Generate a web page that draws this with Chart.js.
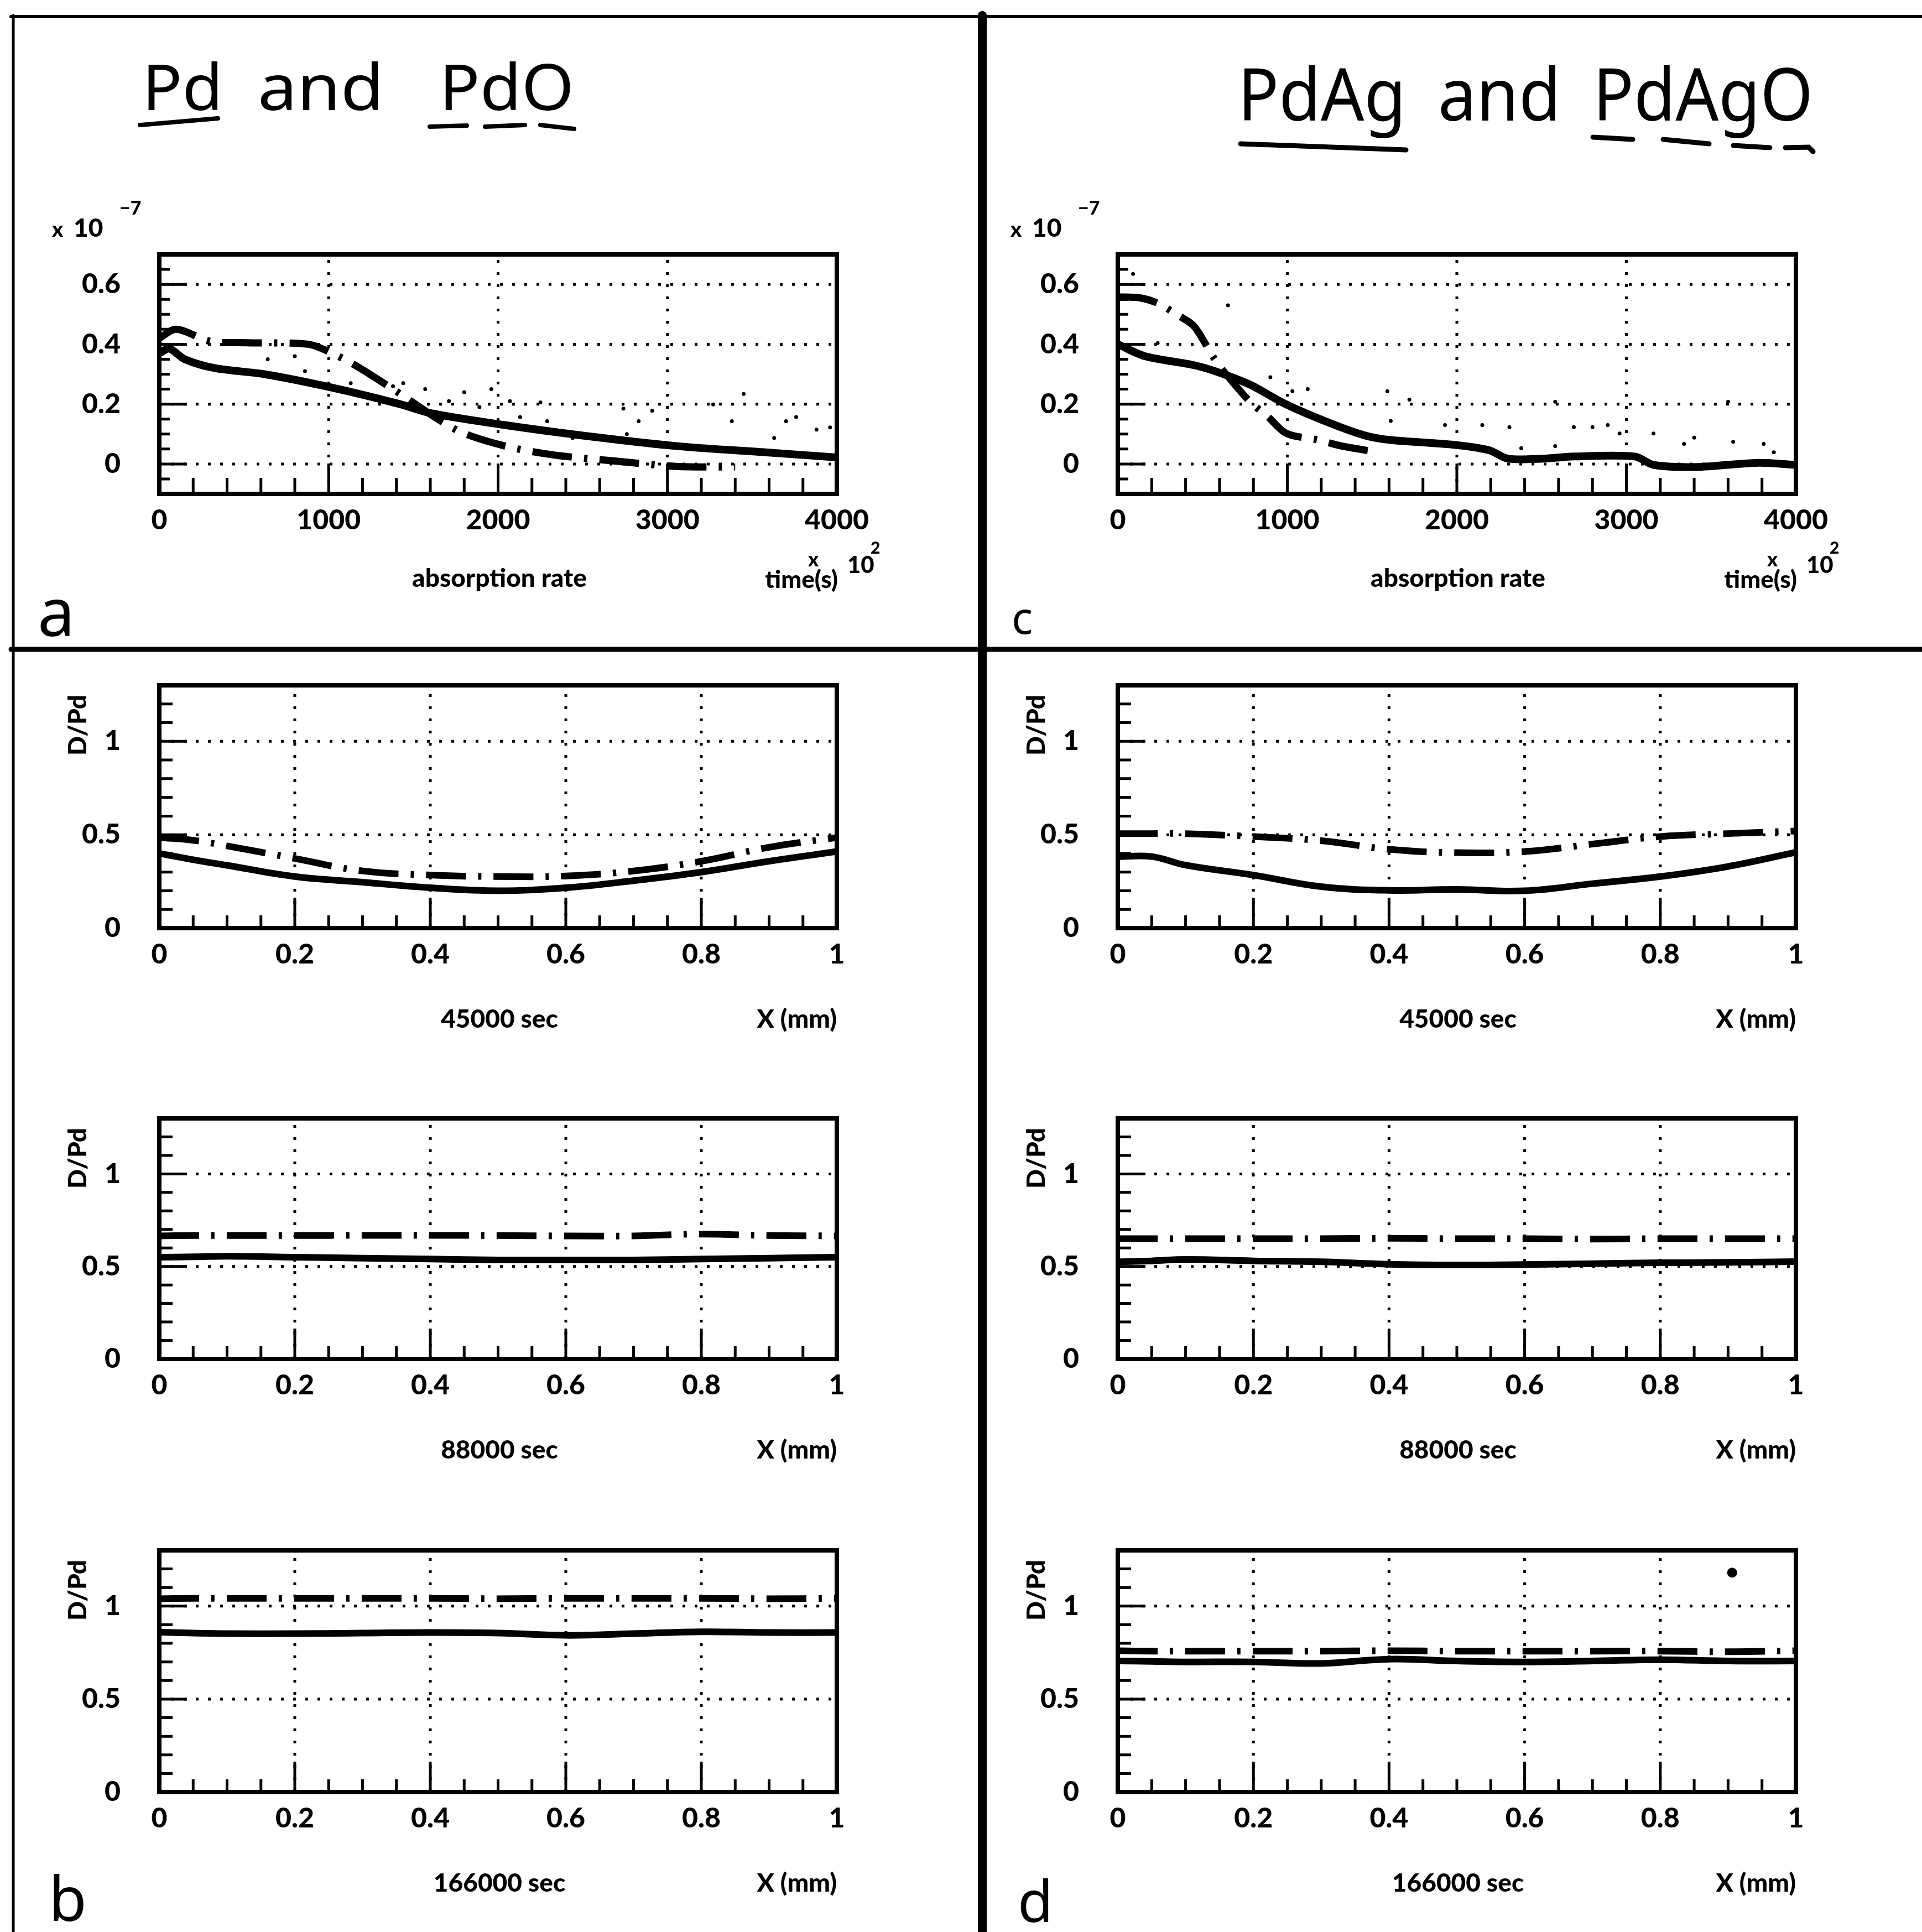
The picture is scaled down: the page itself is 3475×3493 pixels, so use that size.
<!DOCTYPE html>
<html>
<head>
<meta charset="utf-8">
<title>Pd and PdO / PdAg and PdAgO</title>
<script src="https://cdn.jsdelivr.net/npm/chart.js"></script>
<style>
  html, body { margin: 0; padding: 0; background: #fff; }
  body { position: relative; width: 3475px; height: 3493px; overflow: hidden; }
  canvas { position: absolute; }
  #page { position: absolute; left: 0; top: 0; pointer-events: none; }
  .tk { font-family: Lato, sans-serif; font-weight: 900; fill: #000; }
  .hw { font-family: 'Noto Sans', sans-serif; font-weight: 400; fill: #000; }
</style>
</head>
<body>
<svg id="page" width="3475" height="3493"></svg>
<script>
// absorption rate (x 10^-7) against time (x 10^2 s)
const pdTime   = [0, 60, 150, 330, 620, 1020, 1420, 1600, 2040, 2500, 3050, 3600, 4000];
const pdRate   = [0.37, 0.385, 0.35, 0.32, 0.30, 0.255, 0.20, 0.17, 0.13, 0.095, 0.06, 0.038, 0.022];
const pdoTime  = [0, 100, 300, 520, 880, 1020, 1170, 1380, 1750, 2040, 2330, 2690, 3050, 3400];
const pdoRate  = [0.42, 0.45, 0.41, 0.405, 0.40, 0.37, 0.325, 0.25, 0.115, 0.06, 0.03, 0.01, -0.008, -0.01];
const pdoDotT  = [640, 800, 860, 1130, 1380, 1440, 1570, 1710, 1800, 1890, 1960, 2070, 2130, 2250, 2290, 2440, 2740, 2760, 2830, 2910, 3270, 3380, 3450, 3630, 3700, 3760, 3880, 3960];
const pdoDotR  = [0.35, 0.36, 0.31, 0.27, 0.26, 0.27, 0.25, 0.21, 0.24, 0.19, 0.25, 0.21, 0.157, 0.206, 0.143, 0.087, 0.185, 0.10, 0.143, 0.178, 0.199, 0.143, 0.234, 0.087, 0.143, 0.157, 0.115, 0.122];

const pdagTime  = [0, 160, 450, 600, 780, 990, 1250, 1460, 1610, 1970, 2190, 2300, 2510, 2690, 3050, 3160, 3410, 3780, 4000];
const pdagRate  = [0.40, 0.36, 0.33, 0.305, 0.265, 0.20, 0.137, 0.095, 0.08, 0.065, 0.046, 0.018, 0.018, 0.025, 0.025, -0.003, -0.01, 0.004, -0.003];
const pdagoTime = [0, 130, 235, 345, 450, 560, 630, 780, 885, 995, 1175, 1320, 1540];
const pdagoRate = [0.558, 0.555, 0.537, 0.50, 0.46, 0.36, 0.306, 0.208, 0.158, 0.102, 0.081, 0.06, 0.039];
const pdagoDotT = [90, 235, 650, 900, 1030, 1120, 1590, 1610, 1720, 1930, 2150, 2310, 2380, 2580, 2580, 2690, 2800, 2890, 2960, 3160, 3340, 3400, 3600, 3630, 3810, 3870];
const pdagoDotR = [0.635, 0.404, 0.53, 0.29, 0.243, 0.25, 0.243, 0.144, 0.215, 0.13, 0.13, 0.123, 0.053, 0.208, 0.06, 0.123, 0.123, 0.13, 0.102, 0.102, 0.067, 0.088, 0.208, 0.074, 0.067, 0.039];

// D/Pd profiles against X (mm)
const xPos = [0, 0.05, 0.1, 0.2, 0.3, 0.4, 0.5, 0.6, 0.7, 0.8, 0.9, 1];
const pd45k    = [0.40, 0.366, 0.336, 0.276, 0.246, 0.216, 0.20, 0.216, 0.254, 0.30, 0.358, 0.41];
const pdo45k   = [0.485, 0.47, 0.44, 0.373, 0.306, 0.284, 0.276, 0.279, 0.306, 0.358, 0.433, 0.485];
const pd88k    = [0.55, 0.552, 0.555, 0.55, 0.545, 0.54, 0.535, 0.535, 0.535, 0.54, 0.545, 0.55];
const pdo88k   = [0.665, 0.667, 0.667, 0.667, 0.668, 0.668, 0.667, 0.665, 0.665, 0.675, 0.667, 0.665];
const pd166k   = [0.86, 0.855, 0.852, 0.852, 0.855, 0.858, 0.855, 0.843, 0.852, 0.862, 0.858, 0.858];
const pdo166k  = [1.04, 1.042, 1.042, 1.042, 1.042, 1.042, 1.04, 1.042, 1.042, 1.042, 1.04, 1.042];
const pdag45k  = [0.383, 0.383, 0.337, 0.284, 0.222, 0.202, 0.207, 0.20, 0.238, 0.276, 0.33, 0.406];
const pdago45k = [0.506, 0.506, 0.506, 0.49, 0.468, 0.422, 0.404, 0.41, 0.45, 0.49, 0.506, 0.52];
const pdag88k  = [0.525, 0.53, 0.538, 0.53, 0.525, 0.512, 0.508, 0.51, 0.515, 0.52, 0.522, 0.526];
const pdago88k = [0.65, 0.65, 0.65, 0.65, 0.65, 0.652, 0.65, 0.65, 0.648, 0.65, 0.65, 0.65];
const pdag166k  = [0.705, 0.703, 0.70, 0.70, 0.692, 0.715, 0.705, 0.70, 0.705, 0.712, 0.705, 0.705];
const pdago166k = [0.76, 0.758, 0.758, 0.758, 0.758, 0.76, 0.758, 0.758, 0.758, 0.758, 0.755, 0.76];
const pdag166kDotX = [0.906];
const pdag166kDotY = [1.18];

// ticks
const timeTicks  = [0, 1000, 2000, 3000, 4000];
const timeLabels = ['0', '1000', '2000', '3000', '4000'];
const rateTicks  = [0, 0.2, 0.4, 0.6];
const rateLabels = ['0', '0.2', '0.4', '0.6'];
const posTicks   = [0, 0.2, 0.4, 0.6, 0.8, 1];
const posLabels  = ['0', '0.2', '0.4', '0.6', '0.8', '1'];
const dpdTicks   = [0, 0.5, 1];
const dpdLabels  = ['0', '0.5', '1'];
const sampleTimes = ['45000 sec', '88000 sec', '166000 sec'];

// page layout (plot areas in page pixels)
const cols = [[288, 1513], [2021, 3247]];
const topRow = [460, 893];
const rows = [[1239, 1678], [2022, 2457], [2803, 3240]];

Chart.defaults.font.family = 'Lato, sans-serif';
Chart.defaults.color = '#000';

const pts = (xs, ys) => xs.map((x, i) => ({x: x, y: ys[i]}));
const solid = (xs, ys, t, w) => ({data: pts(xs, ys), borderColor: '#000', borderWidth: w, pointRadius: 0, tension: t, fill: false});
const dashed = (xs, ys, t, w) => Object.assign(solid(xs, ys, t, w), {borderDash: [72, 22, 6, 22]});
const dots = (xs, ys, r) => ({data: pts(xs, ys), showLine: false, pointRadius: r, pointBackgroundColor: '#000', pointBorderWidth: 0, borderColor: '#000'});

// dotted grid, inward ticks and the box round each plot
const near = (v, list) => list.some(t => Math.abs(t - v) < 1e-6);
const frame = {
  id: 'frame',
  beforeDatasetsDraw(chart, args, o) {
    const {ctx, chartArea: a, scales: {x, y}} = chart;
    ctx.save();
    ctx.strokeStyle = '#000';
    ctx.lineWidth = 5;
    ctx.setLineDash([5, 17]);
    ctx.beginPath();
    o.gridX.forEach(v => { const p = x.getPixelForValue(v); ctx.moveTo(p, a.bottom); ctx.lineTo(p, a.top); });
    o.gridY.forEach(v => { const p = y.getPixelForValue(v); ctx.moveTo(a.left, p); ctx.lineTo(a.right, p); });
    ctx.stroke();
    ctx.restore();
  },
  afterDatasetsDraw(chart, args, o) {
    const {ctx, chartArea: a, scales: {x, y}} = chart;
    ctx.save();
    ctx.strokeStyle = '#000';
    ctx.setLineDash([]);
    ctx.lineWidth = 5;
    ctx.beginPath();
    for (let i = 1; ; i++) {
      const v = x.min + i * o.xStep;
      if (v > x.max - 1e-9) break;
      const p = x.getPixelForValue(v);
      ctx.moveTo(p, a.bottom);
      ctx.lineTo(p, a.bottom - (near(v, o.gridX) ? o.xMajor : o.xMinor));
    }
    for (let i = 1; ; i++) {
      const v = y.min + i * o.yStep;
      if (v > y.max - 1e-9) break;
      const p = y.getPixelForValue(v);
      ctx.moveTo(a.left, p);
      ctx.lineTo(a.left + (near(v, o.gridY) ? o.yMajor : o.yMinor), p);
    }
    ctx.stroke();
    ctx.lineWidth = 8;
    ctx.strokeRect(a.left, a.top, a.right - a.left, a.bottom - a.top);
    ctx.restore();
  }
};

// keep the plot area exactly where the page layout wants it
const noPad = s => { s.paddingTop = 0; s.paddingBottom = 0; s.paddingLeft = 0; s.paddingRight = 0; };

const YW = 280, RP = 90, TP = 20, XH = 110;
function makeChart(col, row, datasets, ax) {
  const [L, R] = col, [T, B] = row;
  const cv = document.createElement('canvas');
  cv.width = YW + (R - L) + RP;
  cv.height = TP + (B - T) + XH;
  cv.style.left = (L - YW) + 'px';
  cv.style.top = (T - TP) + 'px';
  document.body.insertBefore(cv, document.getElementById('page'));
  const tickFont = {size: 50, weight: '900'};
  new Chart(cv, {
    type: 'line',
    data: {datasets: datasets},
    options: {
      responsive: false, animation: false, devicePixelRatio: 1,
      layout: {autoPadding: false, padding: {top: TP, right: RP, left: 0, bottom: 0}},
      plugins: {legend: {display: false}, tooltip: {enabled: false}, frame: ax.frame},
      scales: {
        x: {
          type: 'linear', min: ax.xMin, max: ax.xMax,
          afterFit: s => { s.height = XH; noPad(s); },
          afterBuildTicks: s => { s.ticks = ax.xTicks.map(v => ({value: v})); },
          ticks: {callback: (v, i) => ax.xLabels[i], font: tickFont, padding: 18, maxRotation: 0, autoSkip: false},
          grid: {display: false, drawTicks: false}, border: {display: false}
        },
        y: {
          type: 'linear', min: ax.yMin, max: ax.yMax,
          afterFit: s => { s.width = YW; noPad(s); },
          afterBuildTicks: s => { s.ticks = ax.yTicks.map(v => ({value: v})); },
          ticks: {callback: (v, i) => ax.yLabels[i], font: tickFont, padding: 70, autoSkip: false},
          grid: {display: false, drawTicks: false}, border: {display: false}
        }
      }
    },
    plugins: [frame]
  });
}

const rateAxes = {
  xMin: 0, xMax: 4000, yMin: -0.1, yMax: 0.7,
  xTicks: timeTicks, xLabels: timeLabels, yTicks: rateTicks, yLabels: rateLabels,
  frame: {gridX: [1000, 2000, 3000], gridY: [0, 0.2, 0.4, 0.6], xStep: 200, yStep: 0.05, xMinor: 29, xMajor: 55, yMinor: 19, yMajor: 50}
};
const dpdAxes = {
  xMin: 0, xMax: 1, yMin: 0, yMax: 1.3,
  xTicks: posTicks, xLabels: posLabels, yTicks: dpdTicks, yLabels: dpdLabels,
  frame: {gridX: [0.2, 0.4, 0.6, 0.8], gridY: [0.5, 1], xStep: 0.05, yStep: 0.1, xMinor: 23, xMajor: 55, yMinor: 24, yMajor: 50}
};

makeChart(cols[0], topRow, [solid(pdTime, pdRate, 0.3, 14), dashed(pdoTime, pdoRate, 0.3, 13), dots(pdoDotT, pdoDotR, 3.5)], rateAxes);
makeChart(cols[1], topRow, [solid(pdagTime, pdagRate, 0.3, 14), dashed(pdagoTime, pdagoRate, 0.3, 13), dots(pdagoDotT, pdagoDotR, 3.5)], rateAxes);

makeChart(cols[0], rows[0], [solid(xPos, pd45k, 0.4, 12), dashed(xPos, pdo45k, 0.4, 12)], dpdAxes);
makeChart(cols[0], rows[1], [solid(xPos, pd88k, 0.4, 12), dashed(xPos, pdo88k, 0.4, 12)], dpdAxes);
makeChart(cols[0], rows[2], [solid(xPos, pd166k, 0.4, 12), dashed(xPos, pdo166k, 0.4, 12)], dpdAxes);
makeChart(cols[1], rows[0], [solid(xPos, pdag45k, 0.4, 12), dashed(xPos, pdago45k, 0.4, 12)], dpdAxes);
makeChart(cols[1], rows[1], [solid(xPos, pdag88k, 0.4, 12), dashed(xPos, pdago88k, 0.4, 12)], dpdAxes);
makeChart(cols[1], rows[2], [solid(xPos, pdag166k, 0.4, 12), dashed(xPos, pdago166k, 0.4, 12), dots(pdag166kDotX, pdag166kDotY, 9)], dpdAxes);

// ---- page furniture: frame, titles, captions ----
const svg = document.getElementById('page');
const NS = 'http://www.w3.org/2000/svg';
function el(tag, attrs, text) {
  const e = document.createElementNS(NS, tag);
  for (const k in attrs) e.setAttribute(k, attrs[k]);
  if (text != null) e.textContent = text;
  svg.appendChild(e);
  return e;
}
const line = (x1, y1, x2, y2, w) => el('line', {x1, y1, x2, y2, stroke: '#000', 'stroke-width': w, 'stroke-linecap': 'round'});
const txt = (x, y, s, cls, size, anchor, extra) => el('text', Object.assign({x, y, class: cls, 'font-size': size, 'text-anchor': anchor || 'start'}, extra || {}), s);

line(20, 30, 3475, 30, 6);
line(24, 28, 24, 3493, 5);
line(20, 1174, 3475, 1174, 9);
line(1776, 28, 1776, 3493, 16);

// handwritten titles
const fit = w => ({textLength: w, lengthAdjust: 'spacingAndGlyphs'});
txt(257, 199, 'Pd', 'hw', 115, 'start', fit(146));
txt(466, 199, 'and', 'hw', 115, 'start', fit(228));
txt(794, 199, 'PdO', 'hw', 115, 'start', fit(244));
line(253, 226, 394, 214, 8);
line(777, 229, 844, 227, 8); line(877, 229, 949, 226, 8); line(977, 226, 1038, 233, 8);

txt(2238, 218, 'PdAg', 'hw', 132, 'start', fit(304));
txt(2600, 218, 'and', 'hw', 132, 'start', fit(222));
txt(2880, 218, 'PdAgO', 'hw', 132, 'start', fit(398));
el('path', {d: 'M2243,260 Q2400,266 2542,271', stroke: '#000', 'stroke-width': 9, fill: 'none', 'stroke-linecap': 'round'});
line(2880, 248, 2952, 252, 9); line(3007, 252, 3090, 260, 9); line(3134, 263, 3200, 267, 9);
el('path', {d: 'M3228,267 L3270,266 L3278,274', stroke: '#000', 'stroke-width': 9, fill: 'none', 'stroke-linecap': 'round'});

txt(68, 1150, 'a', 'hw', 120);
txt(1829, 1146, 'c', 'hw', 80);
txt(88, 3473, 'b', 'hw', 112);
txt(1840, 3475, 'd', 'hw', 104);

// captions of the absorption-rate plots
cols.forEach(([L, R]) => {
  const [T, B] = topRow;
  txt(L - 194, T - 32, 'x', 'tk', 38);
  txt(L - 155, T - 32, '10', 'tk', 46);
  txt(L - 72, T - 72, '\u22127', 'tk', 34);
  txt(L + 615, B + 168, 'absorption rate', 'tk', 46, 'middle');
  txt(R + 2, B + 170, 'time(s)', 'tk', 44, 'end');
  txt(R - 52, B + 131, 'x', 'tk', 36);
  txt(R + 19, B + 143, '10', 'tk', 42);
  txt(R + 61, B + 108, '2', 'tk', 30);
});

// captions of the profile plots
cols.forEach(([L, R]) => {
  rows.forEach(([T, B], i) => {
    el('text', {class: 'tk', 'font-size': 46, 'text-anchor': 'middle', 'dominant-baseline': 'central',
      transform: `translate(${L - 150},${T + 72}) rotate(-90)`}, 'D/Pd');
    txt(L + 615, B + 180, sampleTimes[i], 'tk', 46, 'middle');
    txt(R, B + 180, 'X (mm)', 'tk', 46, 'end');
  });
});
</script>
</body>
</html>
